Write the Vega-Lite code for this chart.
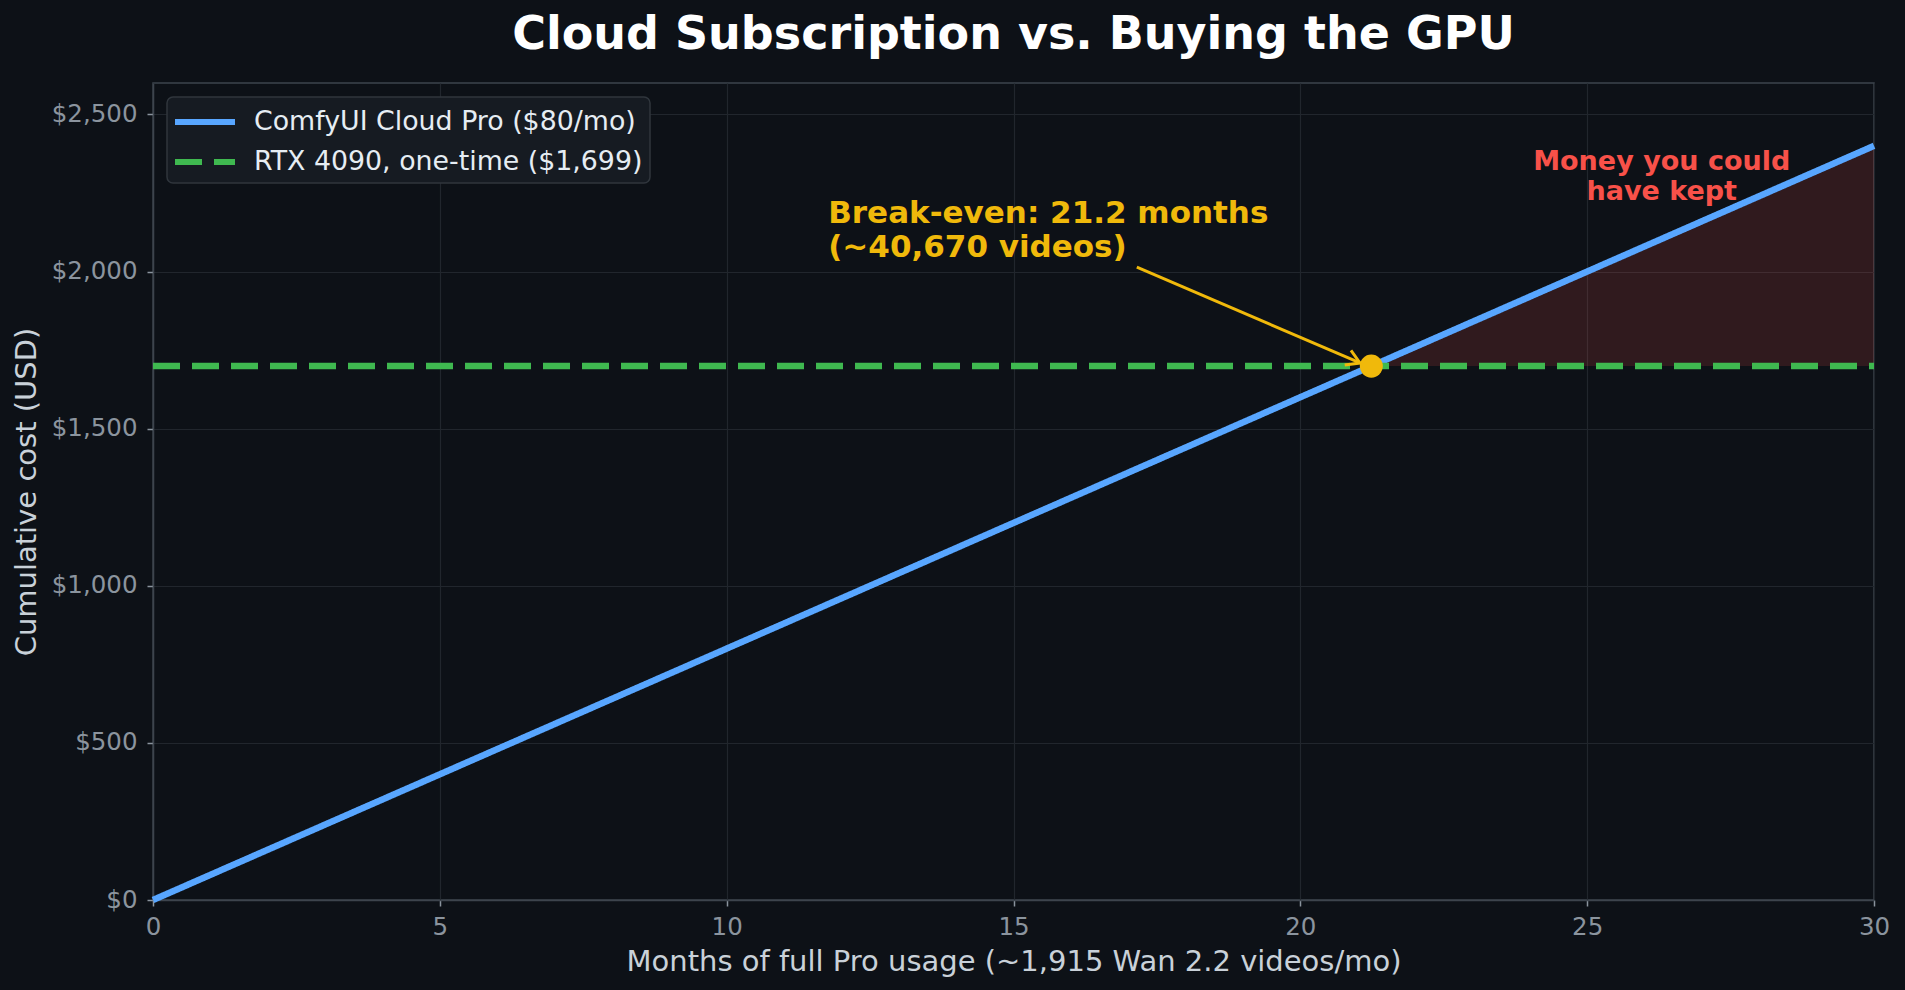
{
  "$schema": "https://vega.github.io/schema/vega-lite/v6.json",
  "width": 1721,
  "height": 817,
  "autosize": {"type": "none"},
  "padding": {"left": 153, "top": 83, "right": 31, "bottom": 90},
  "background": "#0d1117",
  "title": {
    "text": "Cloud Subscription vs. Buying the GPU",
    "font": "DejaVu Sans",
    "fontSize": 46,
    "fontWeight": "bold",
    "color": "#ffffff",
    "anchor": "middle",
    "baseline": "alphabetic",
    "offset": 33,
    "dy": 45
  },
  "config": {
    "font": "DejaVu Sans",
    "view": {"stroke": "#3d444d", "strokeWidth": 1.5},
    "axis": {
      "grid": true,
      "gridColor": "#21262d",
      "gridWidth": 1.2,
      "domainColor": "#3d444d",
      "domainWidth": 1.5,
      "tickColor": "#8b949e",
      "tickSize": 6,
      "tickWidth": 1.5,
      "labelFont": "DejaVu Sans",
      "labelFontSize": 24.5,
      "labelColor": "#8b949e",
      "labelFlush": false,
      "titleFont": "DejaVu Sans",
      "titleFontSize": 29,
      "titleFontWeight": "normal",
      "titleColor": "#c9d1d9"
    },
    "legend": {
      "orient": "none",
      "legendX": 14,
      "legendY": 14,
      "fillColor": "#161b22",
      "strokeColor": "#30363d",
      "strokeWidth": 1.5,
      "cornerRadius": 6,
      "padding": 7,
      "labelFont": "DejaVu Sans",
      "labelFontSize": 26.8,
      "labelColor": "#e6edf3",
      "labelLimit": 0,
      "labelOffset": 31,
      "symbolOffset": 13,
      "rowPadding": 8,
      "symbolType": "M-2,0H2",
      "symbolSize": 900,
      "symbolStrokeWidth": 6
    }
  },
  "datasets": {
    "lines": [
      {"month": 0, "cost": 0, "series": "ComfyUI Cloud Pro ($80/mo)"},
      {"month": 30, "cost": 2400, "series": "ComfyUI Cloud Pro ($80/mo)"},
      {"month": 0, "cost": 1699, "series": "RTX 4090, one-time ($1,699)"},
      {"month": 30, "cost": 1699, "series": "RTX 4090, one-time ($1,699)"}
    ],
    "gap": [
      {"month": 21.2375, "low": 1699, "high": 1699},
      {"month": 30, "low": 1699, "high": 2400}
    ],
    "breakeven": [{"month": 21.2375, "cost": 1699}],
    "arrow": [{"month": 17.15, "cost": 2014, "month2": 21.04, "cost2": 1709}],
    "note1": [{"month": 11.77, "cost": 2232, "label": ["Break-even: 21.2 months", "(~40,670 videos)"]}],
    "note2": [{"month": 26.3, "cost": 2390, "label": ["Money you could", "have kept"]}]
  },
  "layer": [
    {
      "data": {"name": "gap"},
      "mark": {"type": "area", "color": "#f85149", "opacity": 0.15},
      "encoding": {
        "x": {"field": "month", "type": "quantitative", "scale": {"domain": [0, 30], "nice": false},
          "axis": {"title": "Months of full Pro usage (~1,915 Wan 2.2 videos/mo)", "values": [0, 5, 10, 15, 20, 25, 30], "format": "d", "labelPadding": 9, "titlePadding": 9}},
        "y": {"field": "high", "type": "quantitative", "scale": {"domain": [0, 2600], "nice": false},
          "axis": {"title": "Cumulative cost (USD)", "values": [0, 500, 1000, 1500, 2000, 2500], "labelExpr": "'$' + format(datum.value, ',')", "labelPadding": 10, "titlePadding": 10}},
        "y2": {"field": "low"}
      }
    },
    {
      "data": {"name": "lines"},
      "mark": {"type": "line", "strokeWidth": 6.5},
      "encoding": {
        "x": {"field": "month", "type": "quantitative"},
        "y": {"field": "cost", "type": "quantitative"},
        "color": {"field": "series", "type": "nominal",
          "scale": {"domain": ["ComfyUI Cloud Pro ($80/mo)", "RTX 4090, one-time ($1,699)"], "range": ["#58a6ff", "#3fb950"]},
          "legend": {"title": null}},
        "strokeDash": {"field": "series", "type": "nominal",
          "scale": {"domain": ["ComfyUI Cloud Pro ($80/mo)", "RTX 4090, one-time ($1,699)"], "range": [[1, 0], [27, 12]]},
          "legend": {"title": null}}
      }
    },
    {
      "data": {"name": "arrow"},
      "mark": {"type": "rule", "color": "#f0b90b", "strokeWidth": 3},
      "encoding": {
        "x": {"field": "month", "type": "quantitative"},
        "y": {"field": "cost", "type": "quantitative"},
        "x2": {"field": "month2"},
        "y2": {"field": "cost2"}
      }
    },
    {
      "data": {"name": "arrow"},
      "mark": {"type": "point", "shape": "M-1,-0.6L0,0L-1,0.6", "filled": false, "stroke": "#f0b90b", "strokeWidth": 3, "size": 700, "angle": 23.3, "opacity": 1},
      "encoding": {
        "x": {"field": "month2", "type": "quantitative"},
        "y": {"field": "cost2", "type": "quantitative"}
      }
    },
    {
      "data": {"name": "breakeven"},
      "mark": {"type": "point", "filled": true, "color": "#f0b90b", "size": 530, "opacity": 1},
      "encoding": {
        "x": {"field": "month", "type": "quantitative"},
        "y": {"field": "cost", "type": "quantitative"}
      }
    },
    {
      "data": {"name": "note1"},
      "mark": {"type": "text", "align": "left", "baseline": "top", "font": "DejaVu Sans", "fontSize": 31, "fontWeight": "bold", "color": "#f0b90b", "lineHeight": 34},
      "encoding": {
        "x": {"field": "month", "type": "quantitative"},
        "y": {"field": "cost", "type": "quantitative"},
        "text": {"field": "label"}
      }
    },
    {
      "data": {"name": "note2"},
      "mark": {"type": "text", "align": "center", "baseline": "top", "font": "DejaVu Sans", "fontSize": 27, "fontWeight": "bold", "color": "#f85149", "lineHeight": 30},
      "encoding": {
        "x": {"field": "month", "type": "quantitative"},
        "y": {"field": "cost", "type": "quantitative"},
        "text": {"field": "label"}
      }
    }
  ]
}
